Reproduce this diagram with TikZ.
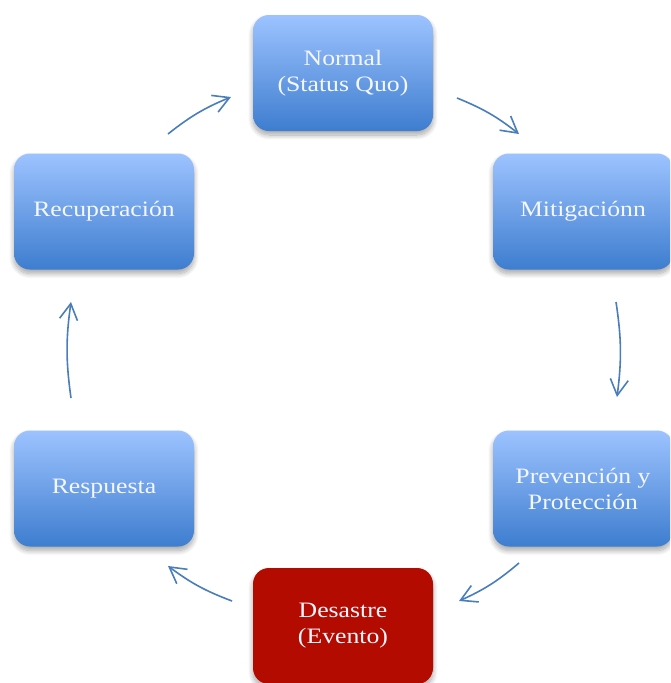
\documentclass[tikz,border=0pt]{standalone}
\usepackage{fontspec}
\setmainfont[FakeStretch=1.17]{Liberation Serif}
\usetikzlibrary{arrows.meta,shadows.blur}
\definecolor{boxtop}{HTML}{9DC3FF}
\definecolor{boxbot}{HTML}{3E7DCF}
\definecolor{redbox}{HTML}{B30B00}
\definecolor{arrowblue}{HTML}{4A7EBB}
\definecolor{txt}{HTML}{F4F7FF}
\begin{document}
\begin{tikzpicture}[x=1pt,y=-1pt,
  stage/.style={rectangle, rounded corners=16pt, minimum width=180pt, minimum height=116pt,
    text=txt, align=center, font=\fontsize{22}{26}\selectfont,
    blur shadow={shadow blur steps=10, shadow xshift=0pt, shadow yshift=-4pt, shadow opacity=35, shadow blur radius=5pt}},
  bluebox/.style={stage, top color=boxtop, bottom color=boxbot},
  redstage/.style={stage, fill=redbox},
  cyc/.style={draw=arrowblue, line width=1.6pt, -{Straight Barb[length=16pt,width=18pt]}}]
\useasboundingbox (0,0) rectangle (670,683);
\clip (0,0) rectangle (670,683);
\node[bluebox] (normal) at (343,73) {Normal\\(Status Quo)};
\node[bluebox] (mitig) at (583,211.5) {Mitigaciónn};
\node[bluebox] (prev) at (583,488.5) {Prevención y\\Protección};
\node[redstage] (des) at (343,626) {Desastre\\(Evento)};
\node[bluebox] (resp) at (104,488.5) {Respuesta};
\node[bluebox] (recup) at (104,211.5) {Recuperación};
\coordinate (a1s) at (457,98);  \coordinate (a1e) at (519,134);
\coordinate (a2s) at (616,302); \coordinate (a2e) at (617,397);
\coordinate (a3s) at (519,563); \coordinate (a3e) at (459,601);
\coordinate (a4s) at (232,601); \coordinate (a4e) at (168,566);
\coordinate (a5s) at (71,398);  \coordinate (a5e) at (71,302);
\coordinate (a6s) at (168,134); \coordinate (a6e) at (231,97);
\draw[cyc] (a1s) to[bend left=8] (a1e);
\draw[cyc] (a2s) to[bend left=8] (a2e);
\draw[cyc] (a3s) to[bend left=8] (a3e);
\draw[cyc] (a4s) to[bend left=8] (a4e);
\draw[cyc] (a5s) to[bend left=8] (a5e);
\draw[cyc] (a6s) to[bend left=8] (a6e);
\end{tikzpicture}
\end{document}
